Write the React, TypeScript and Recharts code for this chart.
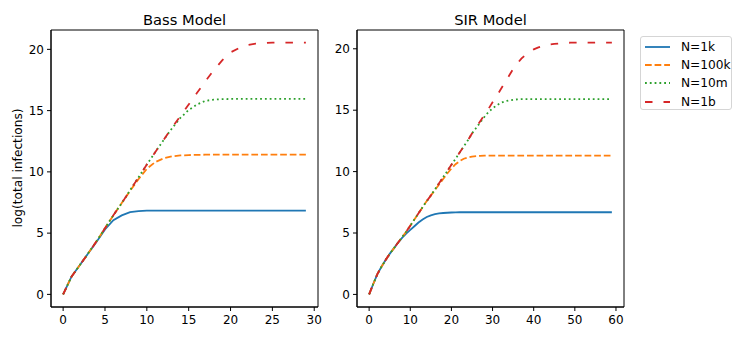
import React from 'react';
import { LineChart, Line, XAxis, YAxis, ReferenceArea } from 'recharts';

// Bass model, days 0..29
const bassDays = [0, 1, 2, 3, 4, 5, 6, 7, 8, 9, 10, 11, 12, 13, 14, 15, 16, 17, 18, 19, 20, 21, 22, 23, 24, 25, 26, 27, 28, 29];
const bass1k = [0, 1.45, 2.4, 3.35, 4.3, 5.3, 6.05, 6.45, 6.72, 6.8, 6.83, 6.84, 6.84, 6.84, 6.84, 6.84, 6.84, 6.84, 6.84, 6.84, 6.84, 6.84, 6.84, 6.84, 6.84, 6.84, 6.84, 6.84, 6.84, 6.84];
const bass100k = [0, 1.45, 2.4, 3.35, 4.35, 5.4, 6.45, 7.45, 8.45, 9.4, 10.25, 10.8, 11.1, 11.27, 11.34, 11.37, 11.39, 11.4, 11.4, 11.4, 11.4, 11.4, 11.4, 11.4, 11.4, 11.4, 11.4, 11.4, 11.4, 11.4];
const bass10m = [0, 1.45, 2.4, 3.35, 4.35, 5.4, 6.45, 7.45, 8.5, 9.55, 10.6, 11.6, 12.6, 13.55, 14.4, 15.05, 15.5, 15.8, 15.9, 15.94, 15.95, 15.95, 15.95, 15.95, 15.95, 15.95, 15.95, 15.95, 15.95, 15.95];
const bass1b = [0, 1.45, 2.4, 3.35, 4.35, 5.4, 6.45, 7.45, 8.5, 9.55, 10.6, 11.6, 12.6, 13.6, 14.55, 15.5, 16.45, 17.4, 18.3, 19.1, 19.75, 20.1, 20.35, 20.47, 20.52, 20.55, 20.55, 20.55, 20.55, 20.55];

// SIR model, days 0..59
const sirDays = [0, 1, 2, 3, 4, 5, 6, 7, 8, 9, 10, 11, 12, 13, 14, 15, 16, 17, 18, 19, 20, 21, 22, 23, 24, 25, 26, 27, 28, 29, 30, 31, 32, 33, 34, 35, 36, 37, 38, 39, 40, 41, 42, 43, 44, 45, 46, 47, 48, 49, 50, 51, 52, 53, 54, 55, 56, 57, 58, 59];
const sir1k = [0, 0.85, 1.65, 2.25, 2.8, 3.3, 3.75, 4.2, 4.6, 4.95, 5.25, 5.55, 5.85, 6.1, 6.3, 6.44, 6.53, 6.59, 6.63, 6.65, 6.67, 6.68, 6.69, 6.69, 6.69, 6.69, 6.69, 6.69, 6.69, 6.69, 6.69, 6.69, 6.69, 6.69, 6.69, 6.69, 6.69, 6.69, 6.69, 6.69, 6.69, 6.69, 6.69, 6.69, 6.69, 6.69, 6.69, 6.69, 6.69, 6.69, 6.69, 6.69, 6.69, 6.69, 6.69, 6.69, 6.69, 6.69, 6.69, 6.69];
const sir100k = [0, 0.85, 1.65, 2.25, 2.8, 3.3, 3.75, 4.2, 4.65, 5.1, 5.6, 6.1, 6.6, 7.1, 7.6, 8.05, 8.5, 8.95, 9.4, 9.85, 10.25, 10.6, 10.85, 11.05, 11.15, 11.22, 11.26, 11.28, 11.3, 11.3, 11.3, 11.3, 11.3, 11.3, 11.3, 11.3, 11.3, 11.3, 11.3, 11.3, 11.3, 11.3, 11.3, 11.3, 11.3, 11.3, 11.3, 11.3, 11.3, 11.3, 11.3, 11.3, 11.3, 11.3, 11.3, 11.3, 11.3, 11.3, 11.3, 11.3];
const sir10m = [0, 0.85, 1.65, 2.25, 2.8, 3.3, 3.75, 4.2, 4.65, 5.1, 5.6, 6.1, 6.6, 7.1, 7.6, 8.05, 8.55, 9.05, 9.55, 10.05, 10.55, 11.05, 11.55, 12.05, 12.55, 13.1, 13.55, 14.0, 14.45, 14.85, 15.15, 15.4, 15.6, 15.72, 15.8, 15.85, 15.88, 15.9, 15.9, 15.9, 15.9, 15.9, 15.9, 15.9, 15.9, 15.9, 15.9, 15.9, 15.9, 15.9, 15.9, 15.9, 15.9, 15.9, 15.9, 15.9, 15.9, 15.9, 15.9, 15.9];
const sir1b = [0, 0.85, 1.65, 2.25, 2.8, 3.3, 3.75, 4.2, 4.65, 5.1, 5.6, 6.1, 6.6, 7.1, 7.6, 8.05, 8.55, 9.05, 9.55, 10.05, 10.55, 11.05, 11.55, 12.05, 12.55, 13.1, 13.6, 14.1, 14.6, 15.1, 15.65, 16.15, 16.7, 17.25, 17.8, 18.35, 18.8, 19.2, 19.5, 19.75, 19.95, 20.1, 20.2, 20.3, 20.35, 20.4, 20.43, 20.46, 20.48, 20.5, 20.5, 20.5, 20.5, 20.5, 20.5, 20.5, 20.5, 20.5, 20.5, 20.5];

const bassTicks = [0, 5, 10, 15, 20, 25, 30];
const sirTicks = [0, 10, 20, 30, 40, 50, 60];
const yTicks = [0, 5, 10, 15, 20];

const seriesNames = ['N=1k', 'N=100k', 'N=10m', 'N=1b'];
const seriesKeys = ['n1k', 'n100k', 'n10m', 'n1b'];
const colors = ['#1f77b4', '#ff7f0e', '#2ca02c', '#d62728'];
const dashes = [undefined, '6.7 2.9', '1.8 3', '7.5 11'];

const bassData = bassDays.map((d, i) => ({ day: d, n1k: bass1k[i], n100k: bass100k[i], n10m: bass10m[i], n1b: bass1b[i] }));
const sirData = sirDays.map((d, i) => ({ day: d, n1k: sir1k[i], n100k: sir100k[i], n10m: sir10m[i], n1b: sir1b[i] }));

const FONT = '"DejaVu Sans", sans-serif';
const tickStyle = { fontSize: 12, fill: '#000', fontFamily: FONT };

type PanelProps = {
  data: any[];
  xDomain: [number, number];
  yDomain: [number, number];
  xTicks: number[];
  marginLeft: number;
  marginRight: number;
  width: number;
};

const Panel = ({ data, xDomain, yDomain, xTicks, marginLeft, marginRight, width }: PanelProps) => (
  <LineChart width={width} height={340} data={data} margin={{ top: 30, right: marginRight, bottom: 3, left: marginLeft }}>
    <XAxis
      dataKey="day"
      type="number"
      domain={xDomain}
      ticks={xTicks}
      allowDataOverflow
      height={30}
      tick={tickStyle}
      tickSize={4}
      tickMargin={4}
      stroke="#000"
      interval={0}
    />
    <YAxis
      type="number"
      domain={yDomain}
      ticks={yTicks}
      allowDataOverflow
      width={45}
      tick={tickStyle}
      tickSize={4}
      tickMargin={3}
      stroke="#000"
      interval={0}
    />
    <ReferenceArea x1={xDomain[0]} x2={xDomain[1]} y1={yDomain[0]} y2={yDomain[1]} fill="none" stroke="#000" strokeWidth={1} />
    {seriesKeys.map((k, i) => (
      <Line
        key={k}
        type="linear"
        dataKey={k}
        stroke={colors[i]}
        strokeWidth={1.8}
        strokeDasharray={dashes[i]}
        dot={false}
        activeDot={false}
        isAnimationActive={false}
      />
    ))}
  </LineChart>
);

export default function App() {
  return (
    <div style={{ position: 'absolute', left: 0, top: 0, width: 747, height: 340, background: '#fff', fontFamily: FONT }}>
      <div style={{ position: 'absolute', left: 0, top: 0 }}>
        <Panel data={bassData} xDomain={[-1.45, 30.45]} yDomain={[-1.03, 21.58]} xTicks={bassTicks} marginLeft={6} marginRight={12} width={330} />
      </div>
      <div style={{ position: 'absolute', left: 300, top: 0 }}>
        <Panel data={sirData} xDomain={[-2.95, 61.95]} yDomain={[-1.025, 21.53]} xTicks={sirTicks} marginLeft={12} marginRight={16} width={340} />
      </div>
      <div style={{ position: 'absolute', left: 51, width: 267, top: 10, textAlign: 'center', fontSize: 14.7, lineHeight: '20px' }}>Bass Model</div>
      <div style={{ position: 'absolute', left: 357, width: 267, top: 10, textAlign: 'center', fontSize: 14.7, lineHeight: '20px' }}>SIR Model</div>
      <div
        style={{
          position: 'absolute',
          left: 18,
          top: 168,
          transform: 'translate(-50%, -50%) rotate(-90deg)',
          whiteSpace: 'nowrap',
          fontSize: 12.2,
          lineHeight: '14px',
        }}
      >
        log(total infections)
      </div>
      <div
        style={{
          position: 'absolute',
          left: 640,
          top: 36,
          width: 92,
          height: 74,
          border: '1px solid #d5d5d5',
          borderRadius: 3,
          boxSizing: 'border-box',
        }}
      >
        {seriesNames.map((name, i) => (
          <div key={name} style={{ position: 'absolute', left: 0, top: 1 + i * 18.2, height: 18, display: 'flex', alignItems: 'center' }}>
            <svg width={40} height={18} style={{ display: 'block' }}>
              <line x1={4} x2={29} y1={9} y2={9} stroke={colors[i]} strokeWidth={1.8} strokeDasharray={dashes[i]} />
            </svg>
            <span style={{ fontSize: 12.2, lineHeight: '18px', color: '#000' }}>{name}</span>
          </div>
        ))}
      </div>
    </div>
  );
}
